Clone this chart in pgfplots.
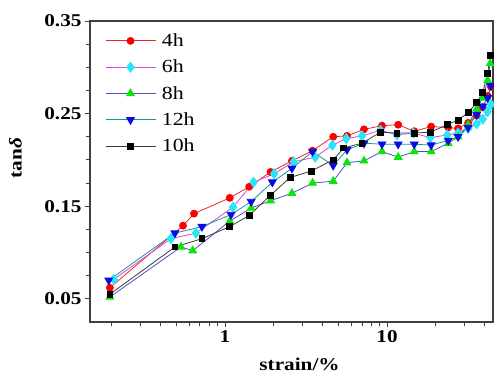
\documentclass[border=0pt]{standalone}
\usepackage{fontspec}
\setmainfont{Liberation Serif}[FakeStretch=1.18]
\usepackage{pgfplots}
\pgfplotsset{compat=1.18}
\definecolor{lred}{RGB}{235,40,40}
\definecolor{mred}{RGB}{250,0,0}
\definecolor{lmag}{RGB}{220,70,220}
\definecolor{mcyan}{RGB}{40,230,250}
\definecolor{lblue}{RGB}{80,80,200}
\definecolor{mgreen}{RGB}{10,230,10}
\definecolor{lteal}{RGB}{20,150,150}
\definecolor{mblue}{RGB}{10,10,230}
\definecolor{lgray}{RGB}{60,60,60}
\begin{document}
\begin{tikzpicture}
\path[use as bounding box] (0,0) rectangle (494bp,376bp);
\begin{axis}[
  at={(90bp,54bp)}, anchor=south west,
  scale only axis, width=403bp, height=301bp,
  xmode=log, xmin=0.147, xmax=45, ymin=0.025, ymax=0.35,
  xtick={1,10}, xticklabels={1,10},
  minor xtick={0.2,0.3,0.4,0.5,0.6,0.7,0.8,0.9,2,3,4,5,6,7,8,9,20,30,40},
  ytick={0.05,0.15,0.25,0.35}, minor ytick={0.075,0.1,0.125,0.175,0.2,0.225,0.275,0.3,0.325},
  yticklabel style={/pgf/number format/.cd, fixed, fixed zerofill, precision=2, assume math mode=true},
  xtick pos=bottom, ytick pos=left, tick align=outside,
  major tick length=5bp, minor tick length=4bp,
  axis line style={line width=1.1bp, black!75},
  tick style={black!75, line width=0.9bp},
  tick label style={font=\fontsize{18bp}{20bp}\selectfont\bfseries},
  xlabel={strain/\%},
  ylabel={tan\textit{δ}},
  every axis x label/.style={at={(axis description cs:0.52,-0.162)}, anchor=base, font=\fontsize{18bp}{20bp}\selectfont\bfseries},
  every axis y label/.style={at={(axis description cs:-0.185,0.545)}, rotate=90, anchor=center, font=\fontsize{18bp}{20bp}\selectfont\bfseries},
  legend style={at={(axis description cs:0.037,0.965)}, anchor=north west, draw=none, fill=none,
    font=\fontsize{18.5bp}{20bp}\selectfont, row sep=8bp, inner sep=0pt},
  legend cell align=left,
  legend image code/.code={\draw[mark repeat=2,mark phase=2,#1] plot coordinates {(0bp,0bp) (25bp,0bp) (50bp,0bp)};},
]
\addplot[color=lred, line width=0.8bp, mark=*, mark size=3.5bp, mark options={draw=mred, fill=mred}] coordinates {
(0.195,0.062) (0.551,0.129) (0.644,0.142) (1.07,0.159) (1.41,0.171) (1.91,0.187) (2.59,0.199) (3.47,0.210) (4.65,0.225) (5.66,0.226) (7.2,0.233) (9.3,0.237) (11.7,0.238) (14.7,0.231) (18.7,0.236) (23.8,0.235) (27.4,0.234) (31.6,0.240) (35.7,0.248) (38.9,0.257) (41.7,0.269) (43.7,0.279)
};
\addlegendentry{\hspace{4bp}4h}
\addplot[color=lmag, line width=0.8bp, mark=diamond*, mark size=5bp, mark options={draw=mcyan, fill=mcyan}] coordinates {
(0.206,0.071) (0.464,0.115) (0.662,0.121) (1.12,0.149) (1.50,0.176) (2.01,0.185) (2.65,0.198) (3.6,0.203) (4.6,0.216) (5.6,0.223) (7.0,0.226) (9.1,0.232) (11.5,0.227) (14.5,0.229) (18.5,0.224) (23.5,0.227) (27.4,0.229) (31.6,0.234) (35.7,0.239) (38.9,0.244) (41.7,0.252) (43.7,0.260)
};
\addlegendentry{\hspace{4bp}6h}
\addplot[color=lblue, line width=0.8bp, mark=triangle*, mark size=4.5bp, mark options={draw=mgreen, fill=mgreen}] coordinates {
(0.195,0.052) (0.535,0.106) (0.632,0.102) (1.07,0.134) (1.45,0.148) (1.91,0.156) (2.59,0.164) (3.47,0.175) (4.65,0.177) (5.66,0.197) (7.2,0.199) (9.3,0.209) (11.7,0.203) (14.7,0.209) (18.7,0.209) (23.8,0.218) (27.4,0.225) (31.6,0.238) (35.7,0.255) (38.9,0.267) (41.7,0.286) (43.2,0.304)
};
\addlegendentry{\hspace{4bp}8h}
\addplot[color=lteal, line width=0.8bp, mark=triangle*, mark size=4.5bp, mark options={draw=mblue, fill=mblue, rotate=180}] coordinates {
(0.192,0.070) (0.491,0.121) (0.721,0.128) (1.09,0.141) (1.45,0.155) (1.96,0.176) (2.59,0.191) (3.47,0.209) (4.65,0.194) (5.66,0.211) (7.2,0.218) (9.3,0.217) (11.7,0.217) (14.7,0.217) (18.7,0.216) (23.8,0.221) (27.4,0.225) (31.6,0.235) (35.7,0.249) (38.9,0.258) (41.7,0.267) (43.7,0.280)
};
\addlegendentry{\hspace{4bp}12h}
\addplot[color=lgray, line width=0.8bp, mark=square*, mark size=2.9bp, mark options={draw=black, fill=black}] coordinates {
(0.195,0.055) (0.491,0.106) (0.721,0.115) (1.07,0.128) (1.41,0.140) (1.91,0.162) (2.52,0.181) (3.4,0.188) (4.65,0.200) (5.4,0.213) (7.0,0.218) (9.1,0.230) (11.5,0.229) (14.7,0.229) (18.5,0.230) (23.5,0.238) (27.4,0.243) (31.6,0.251) (35.7,0.262) (38.9,0.273) (41.7,0.293) (43.2,0.313)
};
\addlegendentry{\hspace{4bp}10h}
\end{axis}
\end{tikzpicture}
\end{document}
